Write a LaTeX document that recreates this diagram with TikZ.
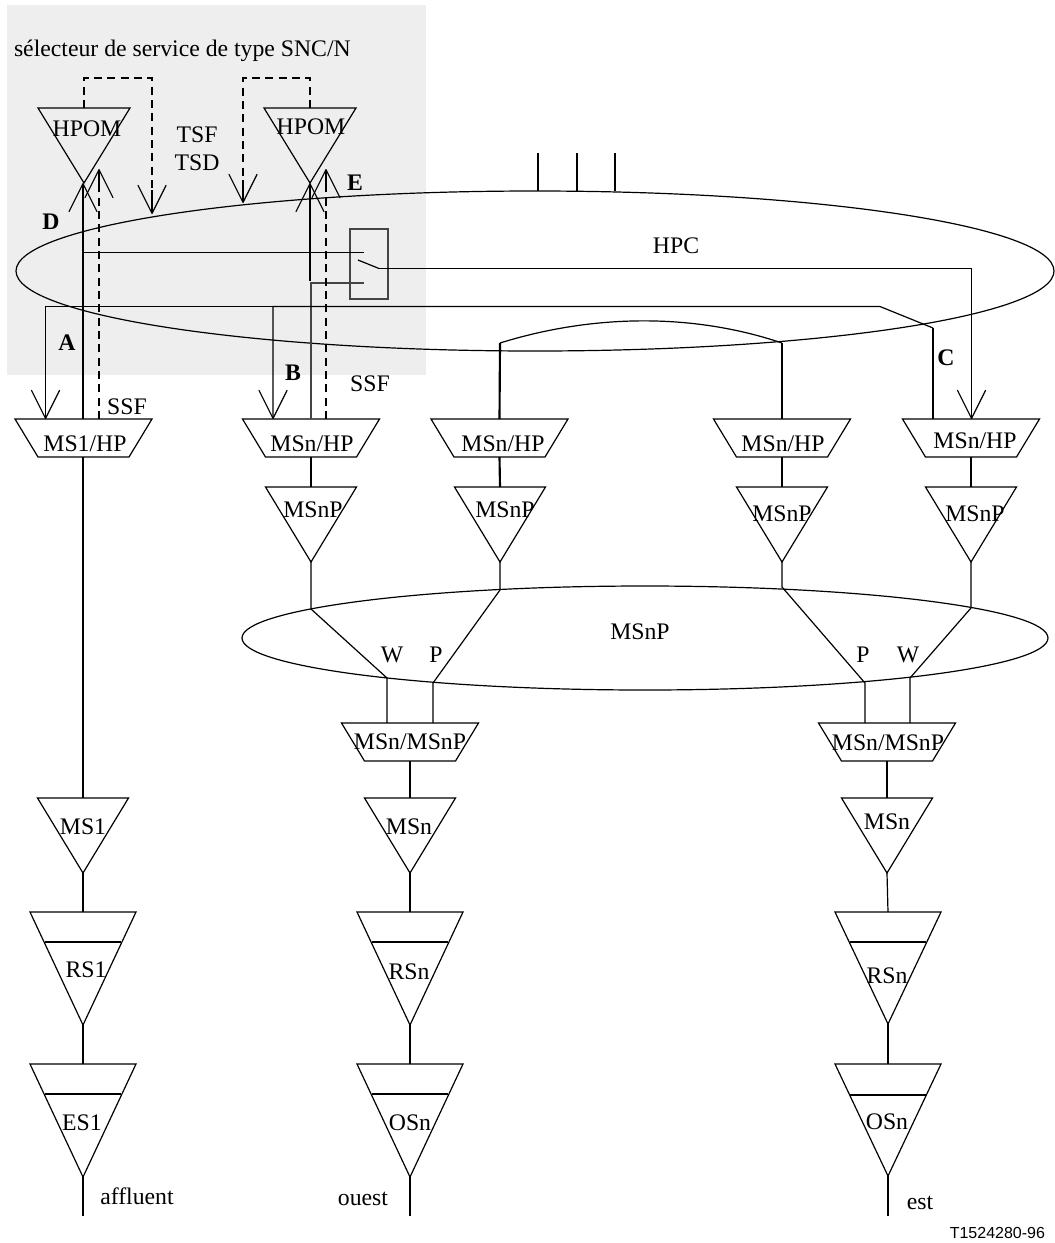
\documentclass[tikz,border=0pt]{standalone}
\usepackage{fontspec}
\setmainfont[Ligatures=NoCommon]{Liberation Serif}
\newfontfamily\arialfont{Liberation Sans}
\usetikzlibrary{arrows.meta}
\definecolor{panelgray}{HTML}{EEEEEE}
\definecolor{softline}{HTML}{444444}
\tikzset{
  x=0.75pt,y=-0.75pt,
  thin line/.style={line width=0.9pt,line cap=butt,line join=miter},
  thick line/.style={line width=1.6pt},
  soft line/.style={line width=0.9pt,draw=softline},
  dashline/.style={line width=1.5pt,dash pattern=on 6pt off 4pt},
  veehead/.style={-{Straight Barb[length=21pt,width=21pt,line width=0.9pt,round=false]}},
  lab/.style={anchor=base,inner sep=0pt,outer sep=0pt,font=\fontsize{17.8pt}{20pt}\selectfont},
  blab/.style={lab,font=\fontsize{17.8pt}{20pt}\selectfont\bfseries},
}
% triangle: name, cx, top, half width, apex y
\newcommand\tribox[5]{%
  \draw[thin line] (#2-#4,#3) -- (#2+#4,#3) -- (#2,#5) -- cycle;
  \coordinate (#1-t) at (#2,#3);
  \coordinate (#1-b) at (#2,#5);
}
% barred triangle: name, cx, top, apex y, bar y
\newcommand\bartri[5]{%
  \tribox{#1}{#2}{#3}{53}{#4}
  \draw[thin line] (#2-38,#5) -- (#2+38,#5);
}
% trapezoid: name, cx, top, bottom
\newcommand\trapbox[4]{%
  \draw[thin line] (#2-68.5,#3) -- (#2+68.5,#3) -- (#2+45.5,#4) -- (#2-45.5,#4) -- cycle;
  \coordinate (#1-t) at (#2,#3);
  \coordinate (#1-b) at (#2,#4);
}
\begin{document}
\begin{tikzpicture}
\useasboundingbox (0,0) rectangle (1054,1243);
\fill[panelgray] (7,5) rectangle (426,375);

% ellipses
\draw[thin line] (535,271) ellipse [x radius=519,y radius=80];
\draw[thin line] (645,638) ellipse [x radius=403,y radius=52];

% boxes
\tribox{hpomA}{84}{108}{46}{183}
\tribox{hpomB}{310}{108}{46}{183}
\trapbox{hpA}{83.5}{419}{457}
\trapbox{hpB}{311}{419}{457}
\trapbox{hpC}{499.5}{419}{457}
\trapbox{hpD}{782}{419}{457}
\trapbox{hpE}{971}{419}{457}
\tribox{mspA}{311}{487}{45.5}{562}
\tribox{mspB}{500}{487}{45.5}{562}
\tribox{mspC}{782}{487}{45.5}{562}
\tribox{mspD}{971}{487}{45.5}{562}
\trapbox{mmA}{410}{723}{761}
\trapbox{mmB}{887}{723}{761}
\tribox{msA}{83}{798}{45.5}{873}
\tribox{msB}{410}{798}{45.5}{873}
\tribox{msC}{887}{798}{45.5}{873}
\bartri{rsA}{83}{912}{1025}{942}
\bartri{rsB}{410}{912}{1025}{942}
\bartri{rsC}{888}{912}{1024}{942}
\bartri{esA}{83}{1064}{1177}{1094}
\bartri{osB}{410}{1064}{1177}{1094}
\bartri{osC}{888}{1064}{1176}{1095}

% switch box
\draw[soft line] (350,229) rectangle (388,299);

% named junctions
\coordinate (stubA) at (538,153); \coordinate (stubAb) at (538,191);
\coordinate (stubB) at (577,153); \coordinate (stubBb) at (577,191);
\coordinate (stubC) at (615,153); \coordinate (stubCb) at (615,191);
\coordinate (swIn) at (364,252.5);
\coordinate (swLow) at (364,283);
\coordinate (swArm) at (358,260);
\coordinate (swOut) at (379,268.5);
\coordinate (hA) at (83,252.5);
\coordinate (hAp) at (83,419);
\coordinate (hB) at (310,281);
\coordinate (loopL) at (500,343);
\coordinate (loopR) at (782,343);
\coordinate (inA) at (45.5,419);
\coordinate (inB) at (273,419);
\coordinate (inE) at (971.5,419);
\coordinate (outE) at (933,419);

% stubs and heavy runs
\foreach \s in {A,B,C} \draw[thin line,line width=1.1pt] (stub\s) -- (stub\s b);
\draw[thick line] (hA) -- (83,215);
\draw[thin line] (hAp) -- (hA) -- (swIn);
\draw[thin line,veehead] (hA) -- (83,183);
\draw[thick line] (hB) -- (310,195);
\draw[thin line,veehead] (310,210) -- (hpomB-b);
\draw[soft line] (hpB-t) -- (311,283) -- (swLow);
\draw[thin line] (swArm) -- (swOut);
\draw[thin line,veehead] (swOut) -- (971.5,268.5) -- (inE);
\draw[thin line,veehead] (933,328) -- (880,306.5) -- (273,306.5) -- (inB);
\draw[thin line,veehead] (273,306.5) -- (45.5,306.5) -- (inA);
\draw[thin line] (outE) -- (933,328);

% dashed control lines
\draw[dashline] (84,108) -- (84,78) -- (152,78) -- (152,190);
\draw[dashline] (310,108) -- (310,78) -- (243,78) -- (243,180);
\draw[dashline] (99,419) -- (99,180);
\draw[dashline] (326,419) -- (326,180);
\coordinate (tipA) at (152,214); \coordinate (tipB) at (243,203);
\coordinate (tipC) at (99,169); \coordinate (tipD) at (326,169);
\draw[thin line,veehead] (152,190) -- (tipA);
\draw[thin line,veehead] (243,180) -- (tipB);
\draw[thin line,veehead] (99,185) -- (tipC);
\draw[thin line,veehead] (326,185) -- (tipD);

% arc between the two HP trails
\draw[thin line] (loopL) .. controls (590,315) and (690,312) .. (loopR);
\draw[thick line] (hpC-t) -- (loopL);
\draw[thick line] (782,419) -- (loopR);

% trails
\draw[thick line] (hpA-b) ++(-0.5,0) -- (msA-t);
\foreach \a/\b in {msA-b/rsA-t,rsA-b/esA-t,hpB-b/mspA-t,hpC-b/mspB-t,hpD-b/mspC-t,hpE-b/mspD-t,mmA-b/msB-t,msB-b/rsB-t,rsB-b/osB-t,mmB-b/msC-t,rsC-b/osC-t}
  \draw[thick line] (\a) -- (\b);
\draw[thin line] (msC-b) -- (rsC-t);
\draw[thick line] (esA-b) -- (83,1216);
\draw[thick line] (osB-b) -- (410,1216);
\draw[thick line] (osC-b) -- (888,1216);

% MSnP ring connections
\draw[thin line] (mspA-b) -- (311,609) -- (387,678) -- (387,723);
\draw[thin line] (mspB-b) -- (500,590) -- (433,683) -- (433,723);
\draw[thin line] (mspC-b) -- (782,587) -- (865,683) -- (865,723);
\draw[thin line] (mspD-b) -- (971,608) -- (910,678) -- (910,723);

% labels
\node[lab,anchor=base west] (title) at (14,56) {sélecteur de service de type SNC/N};
\node[lab] (lhpomA) at (87,136) {HPOM};
\node[lab] (lhpomB) at (311,134) {HPOM};
\node[lab] (ltsf) at (197,142) {TSF};
\node[lab] (ltsd) at (197,170) {TSD};
\node[blab] (lD) at (51,229) {D};
\node[blab] (lE) at (355,190) {E};
\node[blab] (lA) at (67,350) {A};
\node[blab] (lB) at (293,380) {B};
\node[blab] (lC) at (946,365) {C};
\node[lab] (lssfA) at (127,414) {SSF};
\node[lab] (lssfB) at (370,391) {SSF};
\node[lab] (lhpc) at (676,253) {HPC};
\node[lab] (lhpA) at (85,451) {MS1/HP};
\node[lab] (lhpB) at (312,451) {MSn/HP};
\node[lab] (lhpC) at (503,451) {MSn/HP};
\node[lab] (lhpD) at (783,451) {MSn/HP};
\node[lab] (lhpE) at (975,448) {MSn/HP};
\node[lab] (lmspA) at (313,517) {MSnP};
\node[lab] (lmspB) at (505,517) {MSnP};
\node[lab] (lmspC) at (782,521) {MSnP};
\node[lab] (lmspD) at (975,521) {MSnP};
\node[lab] (lring) at (640,639) {MSnP};
\node[lab] (lW1) at (392,662) {W};
\node[lab] (lP1) at (436,662) {P};
\node[lab] (lP2) at (863,662) {P};
\node[lab] (lW2) at (908,662) {W};
\node[lab] (lmmA) at (410,749) {MSn/MSnP};
\node[lab] (lmmB) at (888,750) {MSn/MSnP};
\node[lab] (lmsA) at (83,834) {MS1};
\node[lab] (lmsB) at (409,834) {MSn};
\node[lab] (lmsC) at (887,829) {MSn};
\node[lab] (lrsA) at (86,977) {RS1};
\node[lab] (lrsB) at (409,979) {RSn};
\node[lab] (lrsC) at (887,983) {RSn};
\node[lab] (lesA) at (82,1130) {ES1};
\node[lab] (losB) at (410,1130) {OSn};
\node[lab] (losC) at (887,1129) {OSn};
\node[lab] (laff) at (137,1204) {affluent};
\node[lab] (lou) at (363,1205) {ouest};
\node[lab] (lest) at (920,1209) {est};
\node[lab,anchor=base east,font=\arialfont\fontsize{12pt}{14pt}\selectfont] (lref) at (1045,1238) {T1524280-96};
\end{tikzpicture}
\end{document}
